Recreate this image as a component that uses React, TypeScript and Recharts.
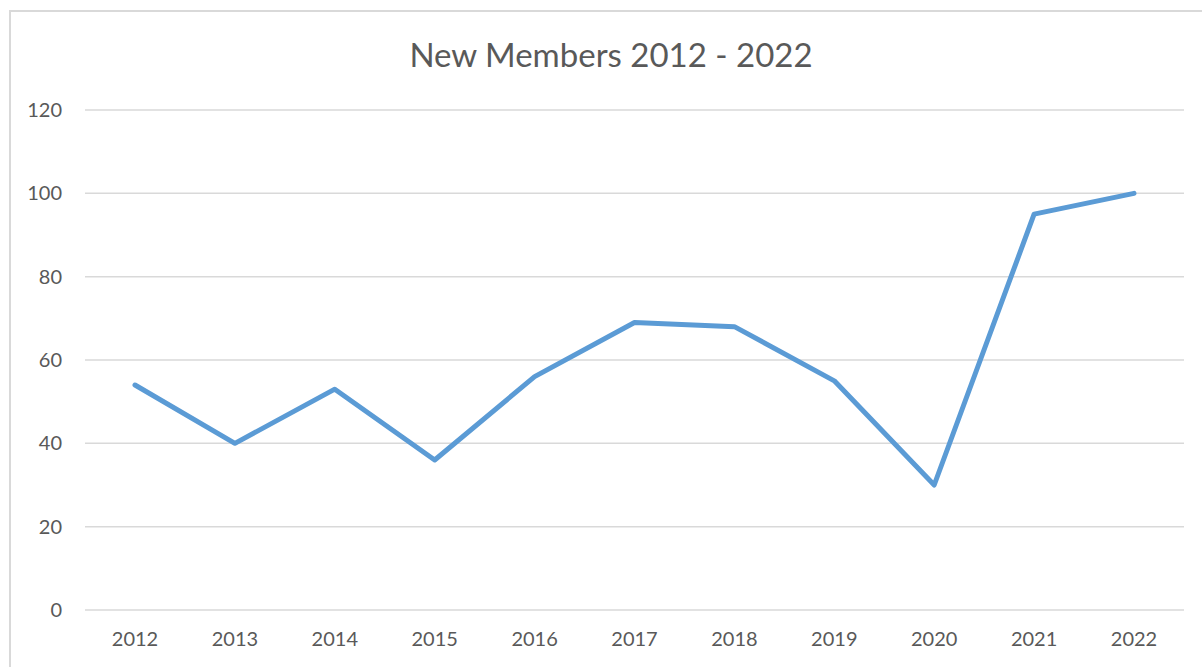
import React from "react";
import { LineChart, Line, XAxis, YAxis, CartesianGrid } from "recharts";

// values
const years = ["2012", "2013", "2014", "2015", "2016", "2017", "2018", "2019", "2020", "2021", "2022"];
const newMembers = [54, 40, 53, 36, 56, 69, 68, 55, 30, 95, 100];
const yTicks = [0, 20, 40, 60, 80, 100, 120];

const TEXT = "#595959";
const GRID = "#d9d9d9";
const LINE = "#5b9bd5";
const FONT = "Lato, 'Open Sans', sans-serif";

const data = years.map((year, i) => ({ year, value: newMembers[i] }));

export default function App() {
  return (
    <div
      style={{
        position: "fixed",
        left: 0,
        top: 0,
        width: 1202,
        height: 667,
        overflow: "hidden",
        background: "#fff",
        fontFamily: FONT,
      }}
    >
      {/* chart frame, cut off on the right and bottom like the screenshot */}
      <div
        style={{
          position: "absolute",
          left: 9,
          top: 10,
          width: 1220,
          height: 700,
          border: `2px solid ${GRID}`,
          boxSizing: "border-box",
        }}
      />
      <div
        style={{
          position: "absolute",
          left: 0,
          top: 32,
          width: 1222,
          textAlign: "center",
          fontSize: 33,
          color: TEXT,
          lineHeight: "44px",
        }}
      >
        New Members 2012 - 2022
      </div>
      <div style={{ position: "absolute", left: 0, top: 0 }}>
        <LineChart
          width={1202}
          height={667}
          data={data}
          margin={{ top: 110, right: 18, bottom: 0, left: 0 }}
        >
          <CartesianGrid vertical={false} stroke={GRID} strokeWidth={1.5} />
          <XAxis
            dataKey="year"
            axisLine={false}
            tickLine={false}
            tickSize={0}
            tickMargin={22}
            height={57}
            interval={0}
            padding={{ left: 50, right: 50 }}
            tick={{ fill: TEXT, fontSize: 20, fontFamily: FONT }}
          />
          <YAxis
            domain={[0, 120]}
            ticks={yTicks}
            axisLine={false}
            tickLine={false}
            tickSize={0}
            tickMargin={23}
            width={85}
            tick={{ fill: TEXT, fontSize: 20, fontFamily: FONT }}
          />
          <Line
            type="linear"
            dataKey="value"
            stroke={LINE}
            strokeWidth={5}
            strokeLinecap="round"
            strokeLinejoin="round"
            dot={false}
            isAnimationActive={false}
          />
        </LineChart>
      </div>
    </div>
  );
}
